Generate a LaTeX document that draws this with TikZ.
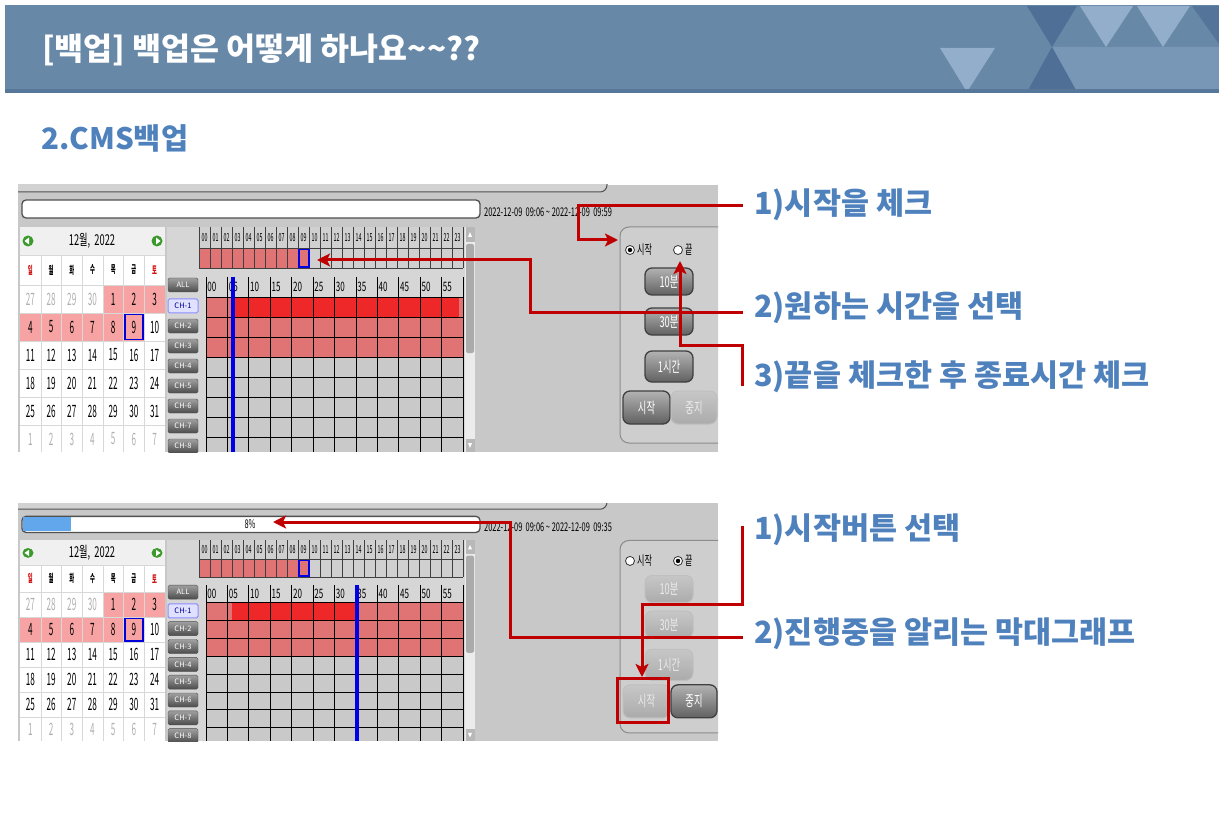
\documentclass[tikz,border=0pt]{standalone}
\usepackage{graphicx}
\usepackage{fontspec}
\usetikzlibrary{arrows.meta}
\newfontfamily\kr{Noto Sans CJK KR}
\definecolor{band}{HTML}{6888A8}
\definecolor{bandE}{HTML}{56769A}
\definecolor{bandD}{HTML}{4F6F96}
\definecolor{bandL}{HTML}{93AECA}
\definecolor{bandM}{HTML}{7896B6}
\definecolor{lblue}{HTML}{4F81BD}
\definecolor{arr}{HTML}{C00000}
\definecolor{shotbg}{HTML}{C8C8C8}
\definecolor{shotbgL}{HTML}{D2D2D2}
\definecolor{edge}{HTML}{505050}
\definecolor{calpink}{HTML}{F7A3A3}
\definecolor{calhead}{HTML}{F0F0F0}
\definecolor{calline}{HTML}{D8D8D8}
\definecolor{numgray}{HTML}{B0B0B0}
\definecolor{dayred}{HTML}{D01010}
\definecolor{calgreen}{HTML}{3C9A2C}
\definecolor{tarea}{HTML}{D6D6D6}
\definecolor{hhead}{HTML}{D0D0D0}
\definecolor{gpink}{HTML}{E07474}
\definecolor{gred}{HTML}{EE2828}
\definecolor{ggray}{HTML}{C9C9C9}
\definecolor{bline}{HTML}{0000E6}
\definecolor{prog}{HTML}{62A6EC}
\definecolor{panelbg}{HTML}{CECECE}
\definecolor{sbtrack}{HTML}{ECECEC}
\definecolor{sbthumb}{HTML}{ABABAB}
\newcommand\nar[1]{\scalebox{0.62}[1]{#1}}
\newcommand\narr[1]{\scalebox{0.48}[1]{#1}}
\tikzset{
  lbl/.style={anchor=west, inner sep=0, text=lblue, font=\kr\bfseries\fontsize{30.5}{32}\selectfont},
  redline/.style={draw=arr, line width=3},
  redarrow/.style={draw=arr, line width=3, -{Stealth[length=13pt, width=13pt, inset=3pt]}},
  smalltxt/.style={inner sep=0, font=\kr\fontsize{12}{12}\selectfont},
  numtxt/.style={inner sep=0, font=\kr\fontsize{17}{17}\selectfont},
  daytxt/.style={inner sep=0, font=\kr\bfseries\fontsize{11}{11}\selectfont},
  hourtxt/.style={inner sep=0, font=\kr\fontsize{11}{11}\selectfont},
  mintxt/.style={inner sep=0, anchor=west, font=\kr\fontsize{13}{13}\selectfont},
  chbtn/.style={inner sep=0, minimum width=30pt, minimum height=14pt, rounded corners=1.5pt,
     top color=gray!75, bottom color=black!70, draw=black!70, text=white, font=\kr\fontsize{7.5}{7.5}\selectfont},
  chsel/.style={inner sep=0, minimum width=30pt, minimum height=14pt, rounded corners=1.5pt,
     fill=blue!12, draw=blue!45, line width=1, text=blue!55!black, font=\kr\fontsize{7.5}{7.5}\selectfont},
  radio/.style={circle, inner sep=0, minimum size=9pt, fill=white, draw=black!80, line width=0.8},
  paneltxt/.style={inner sep=0, anchor=west, font=\kr\fontsize{13}{13}\selectfont},
  btnon/.style={inner sep=0, rounded corners=7pt, top color=black!30, bottom color=black!62, draw=black!75,
     line width=1.3, text=white, font=\kr\fontsize{15}{15}\selectfont},
  btnoff/.style={inner sep=0, rounded corners=7pt, top color=black!22, bottom color=black!33, draw=black!25,
     line width=1, text=black!8, font=\kr\fontsize{15}{15}\selectfont}
}
% one screenshot, local y from 0 to 267
\newcommand\shot[6]{%
\begin{scope}
\clip (18,0) rectangle (718,267);
\fill[shotbg] (18,0) rectangle (718,267);
\draw[draw=edge, line width=1, fill=shotbgL] (10,-20) [rounded corners=7pt] -- (10,7) -- (607,7) -- (607,-20);
% bar
\draw[draw=edge, line width=1.3, fill=white, rounded corners=4pt] (22,15) rectangle (480,33);
\ifnum#6=1
  \fill[prog] (23.2,16.2) rectangle (71,31.8);
  \node[smalltxt] (#1pct) at (250,24) {\nar{8\%}};
\fi
\node[smalltxt, anchor=west] (#1date) at (484,27) {\nar{2022-12-09 \ 09:06 \textasciitilde{} 2022-12-09 \ #2}};
% calendar
\fill[white] (20,42) rectangle (165,267);
\fill[calhead] (20,42) rectangle (165,70);
\node[numtxt, font=\kr\fontsize{15}{15}\selectfont] (#1month) at (92,56) {\nar{12월, \ 2022}};
\fill[calgreen] (28,56) circle (5.5);
\fill[white] (24.5,56) -- (29,52.5) -- (29,59.5) -- cycle;
\fill[calgreen] (157,56) circle (5.5);
\fill[white] (160.5,56) -- (156,52.5) -- (156,59.5) -- cycle;
\foreach \c in {5,6,7} \fill[calpink] ({20+20.71*(\c-1)},100) rectangle ({20+20.71*\c},128);
\foreach \c in {1,...,6} \fill[calpink] ({20+20.71*(\c-1)},128) rectangle ({20+20.71*\c},156);
\foreach \c in {1,...,6} \draw[calline] ({20+20.71*\c},70) -- ({20+20.71*\c},267);
\foreach \r in {0,...,6} \draw[calline] (20,{100+28*\r}) -- (165,{100+28*\r});
\draw[calline] (20,70) -- (165,70);
\foreach \d/\col [count=\c] in {일/dayred,월/black,화/black,수/black,목/black,금/black,토/dayred}
  \node[daytxt, text=\col] (#1dn\c) at ({20+20.71*\c-10.36},85) {\narr{\d}};
\foreach \r in {1,...,6}{\foreach \c in {1,...,7}{%
  \pgfmathtruncatemacro\dd{7*(\r-1)+\c-4}%
  \ifnum\dd<1 \pgfmathtruncatemacro\dd{\dd+30}\def\numcol{numgray}%
  \else\ifnum\dd>31 \pgfmathtruncatemacro\dd{\dd-31}\def\numcol{numgray}%
  \else\def\numcol{black}\fi\fi
  \node[numtxt, text=\numcol] (#1d\r-\c) at ({20+20.71*\c-10.36},{100+28*\r-14}) {\narr{\dd}};
}}
\draw[draw=blue!85!black, line width=1.6] ({20+20.71*5+1.5},129.5) rectangle ({20+20.71*6-1.5},154.5);
% time area
\fill[tarea] (167,42) rectangle (465,267);
\fill[hhead] (199,42) rectangle (463,63);
\fill[gpink] (199,63) rectangle (309,83);
\fill[hhead] (309,63) rectangle (463,83);
\foreach \h in {0,...,23}
  \node[hourtxt] (#1h\h) at ({199+11*\h+5.5},52.5) {\narr{\ifnum\h<10 0\fi\h}};
\foreach \h in {0,...,24} \draw[black!75, line width=0.6] ({199+11*\h},42) -- ({199+11*\h},83);
\draw[black!75, line width=0.8] (199,63) -- (463,63) (199,83) -- (463,83);
\draw[draw=blue!90!black, line width=1.5] (299,64.5) rectangle (309,82);
% minute grid
\fill[gpink] (206,112) rectangle (#3,132);
\fill[gred] (#3,112) rectangle (#4,132);
\fill[gpink] (#4,112) rectangle (463,132);
\fill[gpink] (206,132) rectangle (463,172);
\fill[ggray] (206,172) rectangle (463,267);
\foreach \m in {0,...,12} \draw[black, line width=0.8] ({206+21.4167*\m},92) -- ({206+21.4167*\m},267);
\foreach \k in {0,...,8} \draw[black, line width=0.9] (206,{112+20*\k}) -- (463,{112+20*\k});
\foreach \m in {0,...,11}{%
  \pgfmathtruncatemacro\mm{5*\m}%
  \node[mintxt] (#1m\m) at ({206+21.4167*\m+1.2},102) {\nar{\ifnum\mm<10 0\fi\mm}};}
\fill[bline] ({#5-1.6},92) rectangle ({#5+1.6},267);
% scrollbar
\fill[sbtrack] (465,42) rectangle (475,267);
\fill[black!28] (465.5,42) rectangle (474.5,57);
\fill[white] (470,47) -- (472,52) -- (468,52) -- cycle;
\fill[sbthumb, rounded corners=2pt] (466,59) rectangle (474,168);
\fill[black!28] (465.5,254) rectangle (474.5,267);
\fill[white] (470,263) -- (472,258) -- (468,258) -- cycle;
% channel buttons
\node[chbtn] (#1all) at (183,100) {ALL};
\node[chsel] (#1ch1) at (183,121) {CH-1};
\foreach \k in {2,...,8} \node[chbtn] (#1ch\k) at (183,{121+20*(\k-1)}) {CH-\k};
% right panel
\draw[draw=black!45, line width=1, fill=panelbg, rounded corners=9pt] (620,42) rectangle (740,258);
\node[radio] (#1rs) at (630,65) {};
\node[radio] (#1re) at (678,65) {};
\ifnum#6=0
  \node[circle, fill=black, inner sep=0, minimum size=4.5pt] (#1dot) at (630,65) {};
  \tikzset{bA/.style={btnon}, bB/.style={btnoff}}%
\else
  \node[circle, fill=black, inner sep=0, minimum size=4.5pt] (#1dot) at (678,65) {};
  \tikzset{bA/.style={btnoff}, bB/.style={btnon}}%
\fi
\node[paneltxt] (#1rsl) at (637,65) {\nar{시작}};
\node[paneltxt] (#1rel) at (685,65) {\nar{끝}};
\node[bA, minimum width=48pt, minimum height=27pt] (#1b10) at (669,96.5) {\nar{10분}};
\node[bA, minimum width=48pt, minimum height=27pt] (#1b30) at (669,136.5) {\nar{30분}};
\node[bA, minimum width=48pt, minimum height=31pt] (#1b1h) at (669,181.5) {\nar{1시간}};
\node[bA, minimum width=47pt, minimum height=33pt] (#1bst) at (646.5,222.5) {\nar{시작}};
\node[bB, minimum width=46pt, minimum height=33pt] (#1bsp) at (694,222.5) {\nar{중지}};
\end{scope}}

\begin{document}
\begin{tikzpicture}[x=1pt, y=-1pt]
\useasboundingbox (0,0) rectangle (1219,829);
\fill[white] (0,0) rectangle (1219,829);
% header band
\fill[band] (5,5) rectangle (1219,93);
\fill[bandM] (1052,47) -- (1219,47) -- (1219,92) -- (1077,92) -- cycle;
\fill[bandD] (1027,6) -- (1077,6) -- (1052,47) -- cycle;
\fill[bandD] (1027,92) -- (1077,92) -- (1052,47) -- cycle;
\fill[bandL] (1080,6) -- (1133,6) -- (1106,47) -- cycle;
\fill[bandL] (1137,6) -- (1190,6) -- (1163,47) -- cycle;
\fill[bandD!80!band] (1192,6) -- (1219,6) -- (1219,44) -- cycle;
\fill[bandL] (940,48) -- (995,48) -- (967,92) -- cycle;
\fill[bandE] (5,89) rectangle (1219,93);
\node[anchor=west, inner sep=0, text=white, font=\kr\bfseries\fontsize{31.5}{33}\selectfont] (title) at (42,50)
  {[백업] 백업은 어떻게 하나요\textasciitilde\textasciitilde??};
\node[anchor=west, inner sep=0, text=lblue, font=\kr\bfseries\fontsize{29.5}{31}\selectfont] (subtitle) at (41,138)
  {2.CMS백업};
% screenshots
\begin{scope}[shift={(0,185)}]
  \shot{t}{09:59}{233}{459}{233}{0}
\end{scope}
\begin{scope}[shift={(0,503)}, yscale=0.8914]
  \shot{b}{09:35}{232}{355}{357}{1}
\end{scope}
% labels
\node[lbl] (l1) at (754,205) {1)시작을 체크};
\node[lbl] (l2) at (754,308) {2)원하는 시간을 선택};
\node[lbl] (l3) at (754,377) {3)끝을 체크한 후 종료시간 체크};
\node[lbl] (l4) at (754,530) {1)시작버튼 선택};
\node[lbl] (l5) at (754,634) {2)진행중을 알리는 막대그래프};
% connector points
\coordinate (p1) at (743,206);
\coordinate (q1) at (578,240);
\coordinate (e1) at (618,240);
\coordinate (p2) at (743,313);
\coordinate (q2) at (530,260);
\coordinate (e2) at (317,260);
\coordinate (p3) at (742,386);
\coordinate (q3) at (680,345);
\coordinate (e3) at (680,261);
\coordinate (p4) at (742,526);
\coordinate (q4) at (642,604);
\coordinate (e4) at (642,677);
\coordinate (p5) at (743,637);
\coordinate (q5) at (510,522);
\coordinate (e5) at (273,522);
\draw[redarrow] (p1) -| (q1) -- (e1);
\draw[redarrow] (p2) -| (q2) -- (e2);
\draw[redarrow] (p3) |- (q3) -- (e3);
\draw[redarrow] (p4) |- (q4) -- (e4);
\draw[redarrow] (p5) -| (q5) -- (e5);
\draw[redline] (617,678) rectangle (668,722);
\end{tikzpicture}
\end{document}
